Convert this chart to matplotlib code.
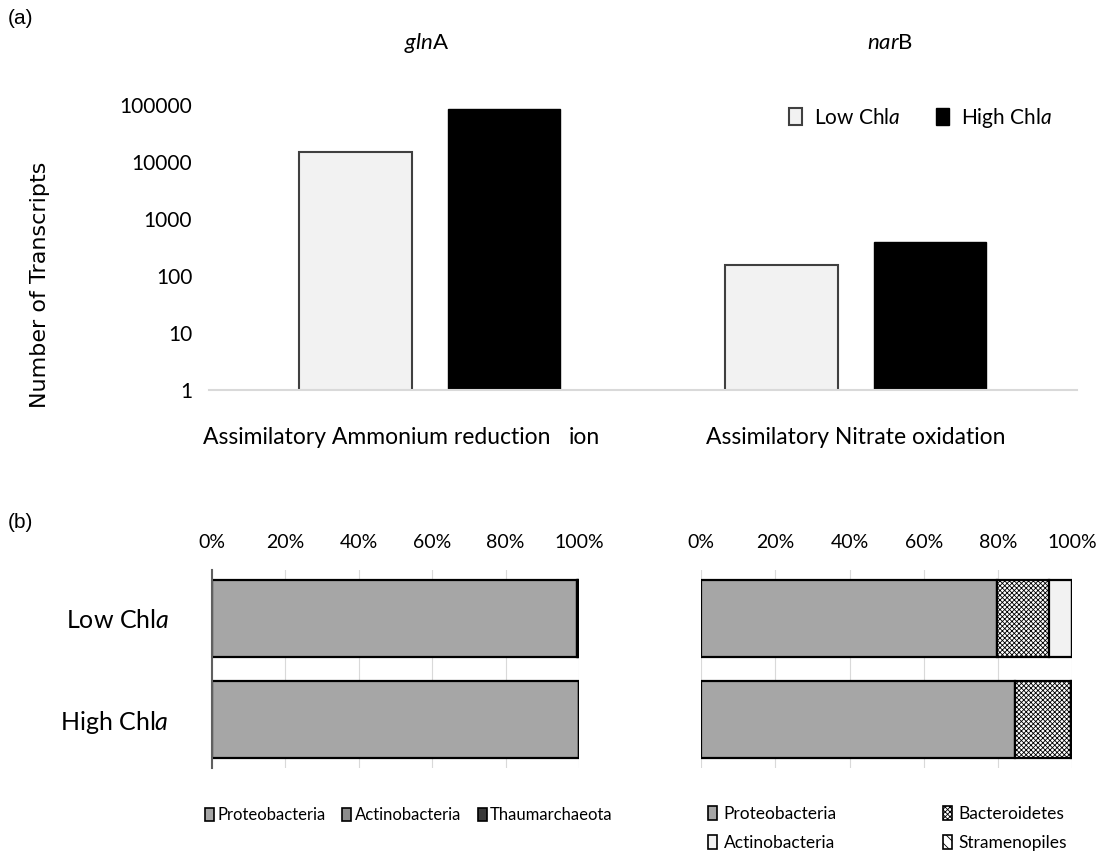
import numpy as np
import matplotlib.pyplot as plt
from matplotlib.patches import Patch

plt.rcParams['font.family'] = 'Lato'
plt.rcParams['mathtext.fontset'] = 'custom'
plt.rcParams['mathtext.rm'] = 'Lato'
plt.rcParams['mathtext.it'] = 'Lato:italic'
plt.rcParams['hatch.linewidth'] = 0.6

# (a) transcript counts
genes = ['$\\it{gln}$A', '$\\it{nar}$B']
processes = ['Assimilatory Ammonium reduction', 'Assimilatory Nitrate oxidation']
low_counts = [15000, 156]
high_counts = [85000, 395]

# (b) taxonomic composition (%)
conditions = ['Low Chl$\\it{a}$', 'High Chl$\\it{a}$']
gln_taxa = ['Proteobacteria', 'Actinobacteria', 'Thaumarchaeota']
gln_pct = {'Proteobacteria': [99.4, 100.0],
           'Actinobacteria': [0.2, 0.0],
           'Thaumarchaeota': [0.4, 0.0]}
nar_taxa = ['Proteobacteria', 'Bacteroidetes', 'Actinobacteria', 'Stramenopiles']
nar_pct = {'Proteobacteria': [79.8, 84.6],
           'Bacteroidetes': [14.0, 15.1],
           'Actinobacteria': [6.2, 0.0],
           'Stramenopiles': [0.0, 0.3]}

fig = plt.figure(figsize=(10.99, 8.51), dpi=100)

# ---- panel (a)
ax = fig.add_axes([0.190, 0.5417, 0.790, 0.335])
x = np.arange(len(genes))
w = 0.265
ax.bar(x - 0.174, low_counts, w, color='#f2f2f2', edgecolor='#404040', lw=1.5, label='Low Chl$\\it{a}$')
ax.bar(x + 0.174, high_counts, w, color='black', edgecolor='black', lw=1.0, label='High Chl$\\it{a}$')
ax.set_yscale('log')
ax.set_ylim(1, 1e5)
ax.set_xlim(-0.519, 1.519)
ax.set_yticks([1, 10, 100, 1000, 10000, 100000])
ax.set_yticklabels(['1', '10', '100', '1000', '10000', '100000'])
ax.minorticks_off()
ax.tick_params(axis='y', length=0, pad=12, labelsize=15)
ax.set_xticks([])
for s in ['top', 'right', 'left']:
    ax.spines[s].set_visible(False)
ax.spines['bottom'].set_color('#d9d9d9')
ax.spines['bottom'].set_linewidth(1.5)
fig.text(40 / 1099, 1 - 285 / 851, 'Number of Transcripts', family='DejaVu Sans', fontsize=16,
         rotation=90, ha='center', va='center')

tr = ax.get_xaxis_transform()
ax.text(-0.533, -0.165, processes[0], transform=tr, fontsize=16.5, ha='left', va='center')
ax.text(0.326, -0.165, 'ion', transform=tr, fontsize=16.5, ha='left', va='center')
ax.text(1.0, -0.165, processes[1], transform=tr, fontsize=16.5, ha='center', va='center')

fig.text(427 / 1099, 1 - 43 / 851, genes[0], fontsize=16, ha='center', va='center')
fig.text(890 / 1099, 1 - 43 / 851, genes[1], fontsize=16, ha='center', va='center')
fig.text(8 / 1099, 1 - 19 / 851, '(a)', family='Liberation Sans', fontsize=15, ha='left', va='center')
fig.text(8 / 1099, 1 - 523 / 851, '(b)', family='Liberation Sans', fontsize=15, ha='left', va='center')

ax.legend(loc='center', bbox_to_anchor=(921 / 1099, 1 - 118 / 851), bbox_transform=fig.transFigure,
          ncol=2, frameon=False, fontsize=15, handlelength=0.6, handleheight=0.9,
          columnspacing=1.7, handletextpad=0.6)

# ---- panel (b)
def stacked(ax, taxa, pct, styles):
    y = np.arange(len(conditions))
    left = np.zeros(len(conditions))
    for t in taxa:
        vals = np.array(pct[t])
        fc, hatch = styles[t]
        ax.barh(y, vals, 0.76, left=left, color=fc, edgecolor='black', lw=1.6, hatch=hatch)
        left += vals
    ax.set_xlim(0, 100)
    ax.set_ylim(1.48, -0.48)
    ax.set_xticks(np.arange(0, 101, 20))
    ax.set_xticklabels([f'{v}%' for v in range(0, 101, 20)])
    ax.xaxis.tick_top()
    ax.tick_params(axis='x', length=0, pad=14, labelsize=14)
    ax.grid(axis='x', color='#d9d9d9', lw=0.8)
    ax.set_axisbelow(True)
    for s in ['top', 'right', 'bottom']:
        ax.spines[s].set_visible(False)
    ax.set_yticks(y)

gln_styles = {'Proteobacteria': ('#a6a6a6', None),
              'Actinobacteria': ('#8c8c8c', None),
              'Thaumarchaeota': ('#3a3a3a', None)}
nar_styles = {'Proteobacteria': ('#a6a6a6', None),
              'Bacteroidetes': ('white', 'xxxxxxx'),
              'Actinobacteria': ('#f2f2f2', None),
              'Stramenopiles': ('white', '\\\\\\')}

axl = fig.add_axes([0.1929, 0.0975, 0.334, 0.2327])
stacked(axl, gln_taxa, gln_pct, gln_styles)
axl.set_yticklabels(conditions, fontsize=18)
axl.tick_params(axis='y', length=0, pad=31)
axl.spines['left'].set_color('#606060')
axl.spines['left'].set_linewidth(1.5)

axr = fig.add_axes([0.638, 0.0975, 0.3376, 0.2327])
stacked(axr, nar_taxa, nar_pct, nar_styles)
axr.set_yticklabels([])
axr.tick_params(axis='y', length=0)
axr.spines['left'].set_visible(False)

h1 = [Patch(facecolor=gln_styles[t][0], edgecolor='black', lw=1.2, label=t) for t in gln_taxa]
fig.legend(handles=h1, loc='center left', bbox_to_anchor=(198 / 1099, 1 - 815 / 851), ncol=3,
           frameon=False, fontsize=12, handlelength=0.55, handleheight=0.8,
           handletextpad=0.2, columnspacing=1.0, borderaxespad=0)

h2 = [Patch(facecolor=nar_styles[t][0], hatch=nar_styles[t][1], edgecolor='black', lw=1.2, label=t)
      for t in ['Proteobacteria', 'Actinobacteria', 'Bacteroidetes', 'Stramenopiles']]
fig.legend(handles=h2, loc='upper left', bbox_to_anchor=(701 / 1099, 1 - 799 / 851), ncol=2,
           frameon=False, fontsize=12.5, handlelength=0.55, handleheight=0.8,
           handletextpad=0.35, columnspacing=6.1, labelspacing=0.75, borderaxespad=0)

fig.savefig('out.png', dpi=100)
